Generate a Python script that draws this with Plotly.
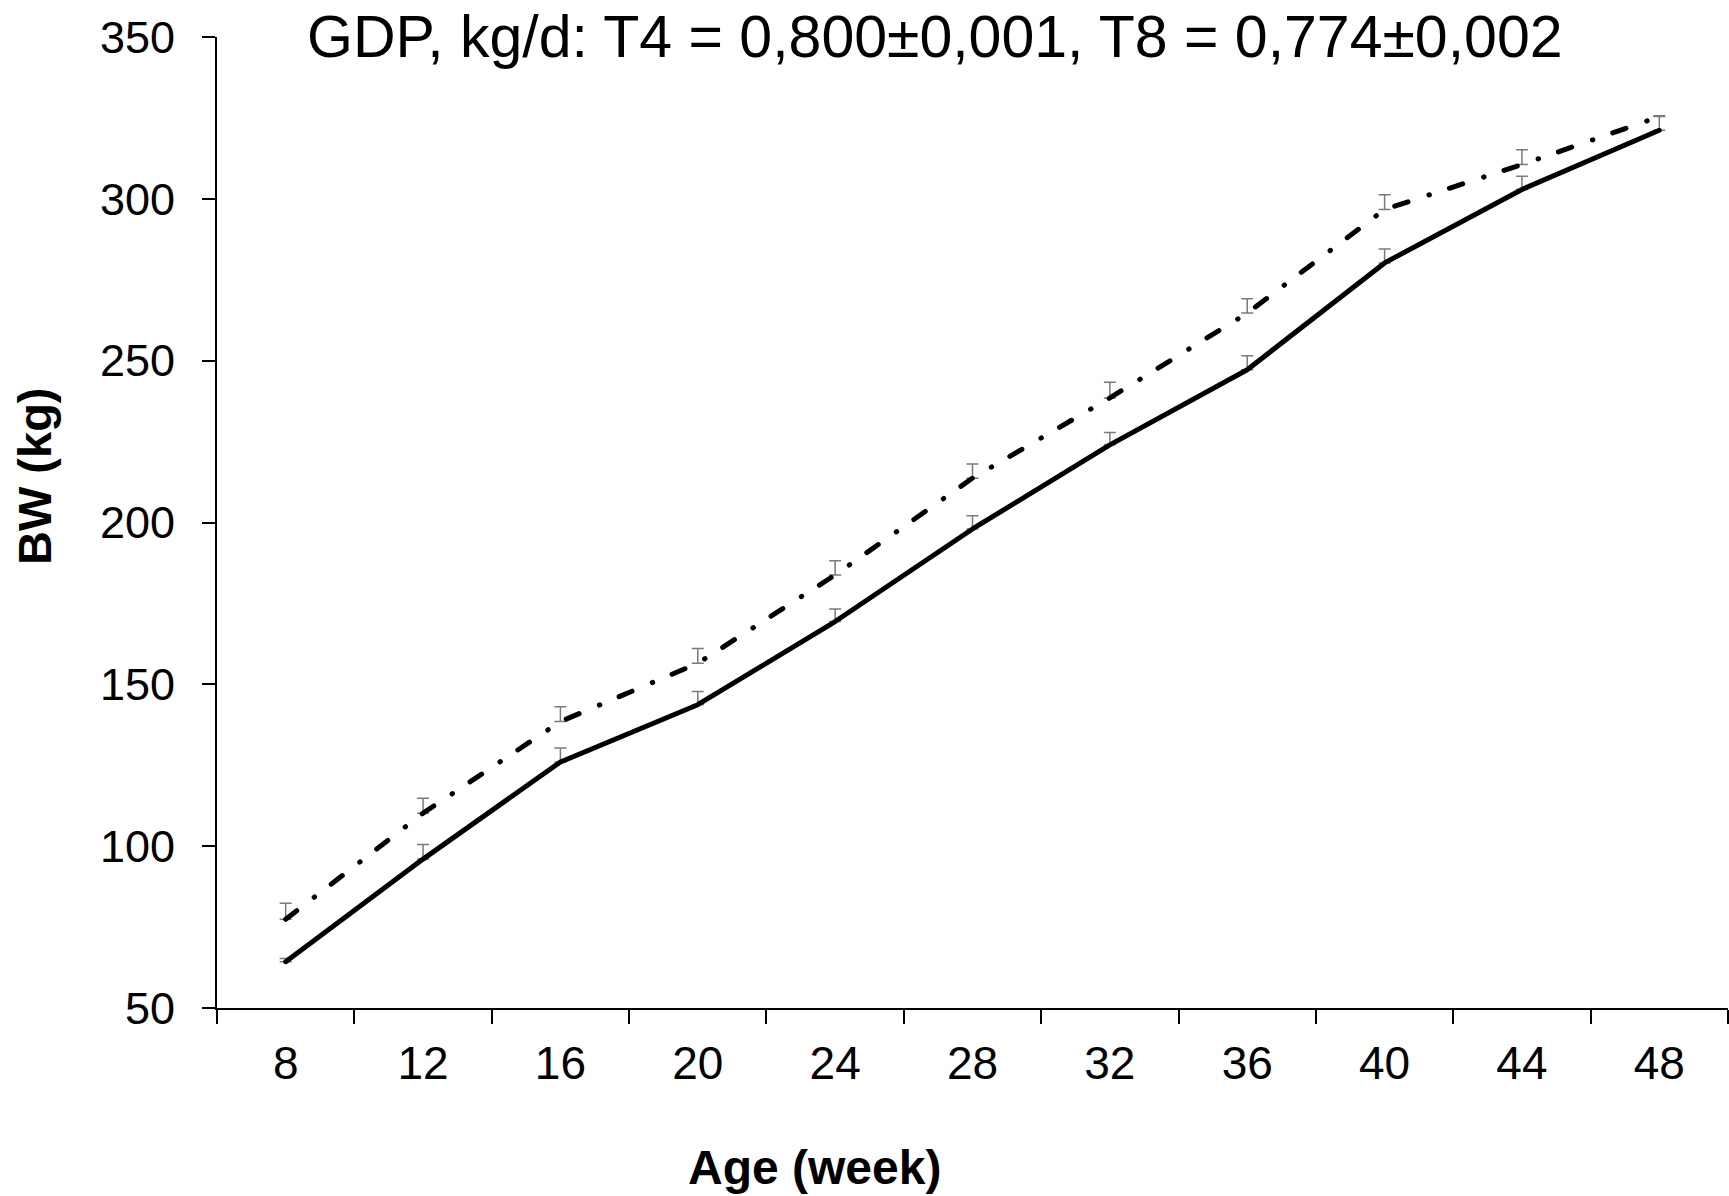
import plotly.graph_objects as go

weeks = ["8", "12", "16", "20", "24", "28", "32", "36", "40", "44", "48"]
t4_bw = [64.3, 96.0, 126.0, 143.7, 169.4, 198.0, 224.0, 247.2, 280.2, 302.9, 321.2]
t4_err = [1.0, 4.5, 4.3, 4.1, 3.9, 4.1, 3.8, 4.3, 4.3, 4.1, 4.5]
t8_bw = [77.4, 110.2, 138.5, 156.5, 183.8, 213.7, 238.5, 264.7, 296.7, 310.6, 325.4]
t8_err = [5.0, 4.6, 4.6, 4.6, 4.4, 4.4, 4.8, 4.4, 4.6, 4.6, 0.0]
y_ticks = [50, 100, 150, 200, 250, 300, 350]

title_text = "GDP, kg/d: T4 = 0,800±0,001, T8 = 0,774±0,002"
x_title = "Age (week)"
y_title = "BW (kg)"

FONT = "Liberation Sans, Arial, sans-serif"
W, H = 1729, 1196
L, R, T, B = 217, 1, 37, 188

fig = go.Figure()
fig.add_trace(go.Scatter(
    x=weeks, y=t8_bw, mode="lines", name="T8",
    line=dict(color="black", width=5, dash="14px,22px,0.5px,21px"),
    error_y=dict(type="data", symmetric=False, array=t8_err,
                 arrayminus=[0] * len(t8_err), color="#7a7a7a",
                 thickness=1.5, width=6),
))
fig.add_trace(go.Scatter(
    x=weeks, y=t4_bw, mode="lines", name="T4",
    line=dict(color="black", width=5),
    error_y=dict(type="data", symmetric=False, array=t4_err,
                 arrayminus=[0] * len(t4_err), color="#7a7a7a",
                 thickness=1.5, width=6),
))

fig.update_layout(
    width=W, height=H, autosize=False,
    margin=dict(l=L, r=R, t=T, b=B, pad=0),
    paper_bgcolor="white", plot_bgcolor="white",
    showlegend=False,
    font=dict(family=FONT, color="black"),
)
fig.update_xaxes(
    type="category", range=[-0.5, 10.5],
    tickson="boundaries", ticks="outside", ticklen=14, tickwidth=1.5,
    tickcolor="black", showline=True, linecolor="black", linewidth=2,
    showgrid=False, zeroline=False,
    tickfont=dict(size=46, family=FONT, color="black"),
    ticklabelstandoff=14,
)
fig.update_yaxes(
    range=[50, 350], tickvals=y_ticks, ticktext=[str(v) for v in y_ticks],
    ticks="outside", ticklen=13, tickwidth=1.5, tickcolor="black",
    showline=True, linecolor="black", linewidth=2,
    showgrid=False, zeroline=False,
    tickfont=dict(size=45, family=FONT, color="black"),
    ticklabelstandoff=18,
)

fig.add_annotation(
    text=title_text, xref="paper", yref="paper",
    x=(935 - L) / (W - L - R), y=1 + (T - 37.5) / (H - T - B),
    xanchor="center", yanchor="middle", showarrow=False,
    font=dict(size=59, family=FONT, color="black"),
)
fig.add_annotation(
    text="<b>" + x_title + "</b>", xref="paper", yref="paper",
    x=(814 - L) / (W - L - R), y=-(1167 - (H - B)) / (H - T - B),
    xanchor="center", yanchor="middle", showarrow=False,
    font=dict(size=48, family=FONT, color="black"),
)
fig.add_annotation(
    text="<b>" + y_title + "</b>", xref="paper", yref="paper",
    x=-(L - 34) / (W - L - R), y=1 - (476 - T) / (H - T - B),
    xanchor="center", yanchor="middle", textangle=-90, showarrow=False,
    font=dict(size=47, family=FONT, color="black"),
)

post = """
var gd = document.getElementById('{plot_id}');
function rc(){ gd.querySelectorAll('.scatterlayer .js-line').forEach(function(p){
  p.style.strokeLinecap='round'; p.style.strokeLinejoin='round'; }); }
rc(); gd.on && gd.on('plotly_afterplot', rc);
"""
fig.write_html("out.html", post_script=post)
